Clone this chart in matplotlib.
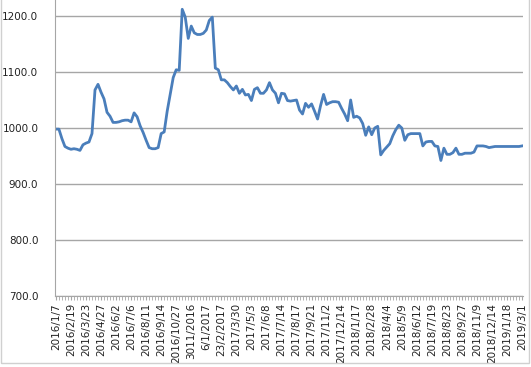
"""Weekly price line chart, Excel style"""

import numpy as np
import matplotlib
matplotlib.use('Agg')
from matplotlib import pyplot as plt
from matplotlib.patches import Rectangle

# Values, one per point (156 points)
values = [
    998, 998, 981, 967, 964, 962, 963, 962, 960, 970,
    973, 975, 990, 1068, 1078, 1064, 1052, 1028, 1021, 1010,
    1010, 1011, 1013, 1014, 1014, 1011, 1027, 1020, 1004, 992,
    978, 965, 963, 963, 965, 990, 993, 1030, 1060, 1090,
    1104, 1103, 1212, 1198, 1160, 1182, 1170, 1167, 1167, 1169,
    1175, 1192, 1198, 1107, 1104, 1086, 1086, 1081, 1074, 1068,
    1075, 1062, 1069, 1059, 1060, 1049, 1069, 1072, 1062, 1062,
    1068, 1081, 1068, 1062, 1045, 1062, 1061, 1049, 1048, 1049,
    1050, 1032, 1025, 1044, 1037, 1043, 1030, 1016, 1040, 1060,
    1042, 1045, 1047, 1047, 1046, 1035, 1025, 1013, 1050, 1019,
    1021, 1018, 1008, 987, 1002, 988, 1000, 1003, 952, 960,
    966, 972, 986, 997, 1005, 1000, 978, 988, 990, 990,
    990, 990, 968, 975, 976, 976, 968, 967, 942, 964,
    953, 953, 956, 964, 953, 953, 955, 955, 955, 957,
    968, 968, 968, 967, 965, 966, 967, 967, 967, 967,
    967, 967, 967, 967, 967, 968,
]

# Category labels shown every fifth point
tick_labels = [
    '2016/1/7', '2016/2/19', '2016/3/23', '2016/4/27', '2016/6/2',
    '2016/7/6', '2016/8/11', '2016/9/14', '2016/10/27', '3011/2016',
    '6/1/2017', '23/2/2017', '2017/3/30', '2017/5/3', '2017/6/8',
    '2017/7/14', '2017/8/17', '2017/9/21', '2017/11/2', '2017/12/14',
    '2018/1/17', '2018/2/28', '2018/4/4', '2018/5/9', '2018/6/12',
    '2018/7/19', '2018/8/23', '2018/9/27', '2018/11/9', '2018/12/14',
    '2019/1/18', '2019/3/1',
]
y_ticks = [700, 800, 900, 1000, 1100, 1200]

W, H = 531, 367
fig = plt.figure(figsize=(W / 100, H / 100), dpi=100)
ax = fig.add_axes([55 / W, (H - 296) / H, (523 - 55) / W, 296 / H])

x = np.arange(len(values))
ax.plot(x, values, color='#4a7ebb', lw=2.0, solid_joinstyle='round')

# Axes look
ax.set_ylim(700, 1200 + 16 / 0.56)
ax.set_xlim(-0.3, len(values) - 1 + 0.3)
ax.set_yticks(y_ticks)
ax.set_yticklabels(['%.1f' % v for v in y_ticks], fontsize=7.5, color='#222222')
ax.yaxis.grid(True, color='#a6a6a6', lw=1.0)
ax.set_axisbelow(True)
ax.tick_params(axis='y', length=0, pad=12)

major = x[::5][:len(tick_labels)]
ax.set_xticks(major)
ax.set_xticklabels(tick_labels[:len(major)], rotation=90, fontsize=7.5, color='#222222')
ax.set_xticks(x, minor=True)
ax.tick_params(axis='x', which='both', length=3, direction='out', color='#a6a6a6', pad=2)

for side in ['top', 'right']:
    ax.spines[side].set_visible(False)
for side in ['left', 'bottom']:
    ax.spines[side].set_color('#a6a6a6')

# Chart area border
fig.patches.append(Rectangle((1 / W, 4 / H), 528 / W, 1.05, transform=fig.transFigure,
                             fill=False, edgecolor='#d0d0d0', lw=1.0))

fig.savefig('out.png', dpi=100)
